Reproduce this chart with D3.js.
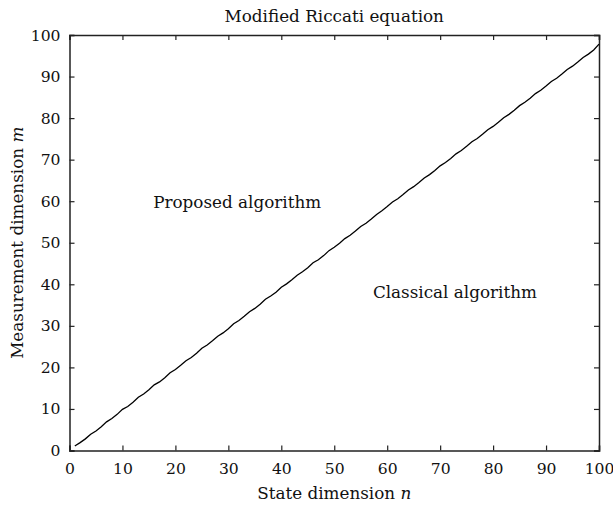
<!DOCTYPE html>
<html lang="en">
	<head>
		<meta charset="utf-8">
		<title>Modified Riccati equation</title>
		<script src="https://cdn.jsdelivr.net/npm/d3@7/dist/d3.min.js"></script>
		<style>
			body { margin: 0; background: #fff; }
			text { font-family: "DejaVu Serif", "Liberation Serif", serif; fill: #111; }
		</style>
	</head>
	<body>
		<script>

			// Chart size and plot box
			var w = 613;
			var h = 509;
			var margin = {left: 69.5, right: 14, top: 35, bottom: 58.5};
			var fontSize = "16.8px";
			var tickFontSize = "15.6px";

			// State dimension n
			var stateDim = [];
			for (var i = 1; i <= 100; i++) stateDim.push(i);

			var measDim = [
				1.1, 1.9, 2.8, 3.9, 4.7, 5.7, 6.9, 7.7, 8.7, 9.9,
				10.6, 11.6, 12.8, 13.6, 14.6, 15.8, 16.5, 17.5, 18.7, 19.5,
				20.5, 21.6, 22.4, 23.4, 24.6, 25.4, 26.4, 27.5, 28.3, 29.3,
				30.5, 31.3, 32.3, 33.4, 34.2, 35.2, 36.4, 37.2, 38.1, 39.3,
				40.1, 41.1, 42.2, 43.0, 44.0, 45.2, 45.9, 46.9, 48.1, 48.9,
				49.9, 51.0, 51.8, 52.8, 53.9, 54.7, 55.7, 56.8, 57.7, 58.7,
				59.8, 60.6, 61.6, 62.7, 63.5, 64.5, 65.6, 66.4, 67.4, 68.5,
				69.3, 70.3, 71.4, 72.2, 73.2, 74.3, 75.1, 76.1, 77.2, 78.0,
				79.0, 80.1, 80.9, 81.9, 83.0, 83.8, 84.8, 85.9, 86.7, 87.7,
				88.8, 89.6, 90.6, 91.7, 92.5, 93.5, 94.6, 95.4, 96.4, 97.8
			];

			var xTicks = [0, 10, 20, 30, 40, 50, 60, 70, 80, 90, 100];
			var yTicks = [0, 10, 20, 30, 40, 50, 60, 70, 80, 90, 100];

			// Region labels: [text, n, m]
			var regionLabels = [
				["Proposed algorithm", 15.8, 58.4],
				["Classical algorithm", 57.3, 36.6]
			];

			var dataset = stateDim.map(function(n, i) { return {n: n, m: measDim[i]}; });

			var xScale = d3.scaleLinear().domain([0, 100]).range([margin.left, w - margin.right]);
			var yScale = d3.scaleLinear().domain([0, 100]).range([h - margin.bottom, margin.top]);

			var svg = d3.select("body").append("svg")
						.attr("width", w)
						.attr("height", h);

			var tickLen = 5;

			// Axes with inward ticks, mirrored on top and right
			var xAxis = d3.axisBottom(xScale).tickValues(xTicks).tickSize(-tickLen).tickPadding(12);
			var yAxis = d3.axisLeft(yScale).tickValues(yTicks).tickSize(-tickLen).tickPadding(9);

			var gx = svg.append("g")
				.attr("transform", "translate(0," + yScale(0) + ")")
				.call(xAxis);
			var gy = svg.append("g")
				.attr("transform", "translate(" + xScale(0) + ",0)")
				.call(yAxis);
			var gxTop = svg.append("g")
				.attr("transform", "translate(0," + yScale(100) + ")")
				.call(d3.axisTop(xScale).tickValues(xTicks).tickSize(-tickLen).tickFormat(""));
			var gyRight = svg.append("g")
				.attr("transform", "translate(" + xScale(100) + ",0)")
				.call(d3.axisRight(yScale).tickValues(yTicks).tickSize(-tickLen).tickFormat(""));

			[gx, gy, gxTop, gyRight].forEach(function(g) {
				g.select(".domain").attr("stroke", "#222").attr("stroke-width", 1.5);
				g.selectAll(".tick line").attr("stroke", "#222").attr("stroke-width", 1.2);
				g.selectAll(".tick text")
					.style("font-family", "'DejaVu Serif', serif")
					.style("font-size", tickFontSize)
					.attr("fill", "#111");
			});

			// The crossover line
			var line = d3.line()
						.x(function(d) { return xScale(d.n); })
						.y(function(d) { return yScale(d.m); });

			svg.append("path")
				.datum(dataset)
				.attr("fill", "none")
				.attr("stroke", "#000")
				.attr("stroke-width", 1.3)
				.attr("d", line);

			// Region labels
			svg.selectAll(".region")
				.data(regionLabels)
				.enter()
				.append("text")
				.attr("class", "region")
				.attr("x", function(d) { return xScale(d[1]); })
				.attr("y", function(d) { return yScale(d[2]); })
				.style("font-size", fontSize)
				.text(function(d) { return d[0]; });

			// Title
			svg.append("text")
				.attr("x", (xScale(0) + xScale(100)) / 2)
				.attr("y", 22)
				.attr("text-anchor", "middle")
				.style("font-size", fontSize)
				.text("Modified Riccati equation");

			// X label
			var xl = svg.append("text")
				.attr("x", (xScale(0) + xScale(100)) / 2)
				.attr("y", 499)
				.attr("text-anchor", "middle")
				.style("font-size", fontSize);
			xl.append("tspan").text("State dimension ");
			xl.append("tspan").style("font-style", "italic").text("n");

			// Y label
			var yl = svg.append("text")
				.attr("transform", "translate(23," + (yScale(50)) + ") rotate(-90)")
				.attr("text-anchor", "middle")
				.style("font-size", fontSize);
			yl.append("tspan").text("Measurement dimension ");
			yl.append("tspan").style("font-style", "italic").text("m");

		</script>
	</body>
</html>
